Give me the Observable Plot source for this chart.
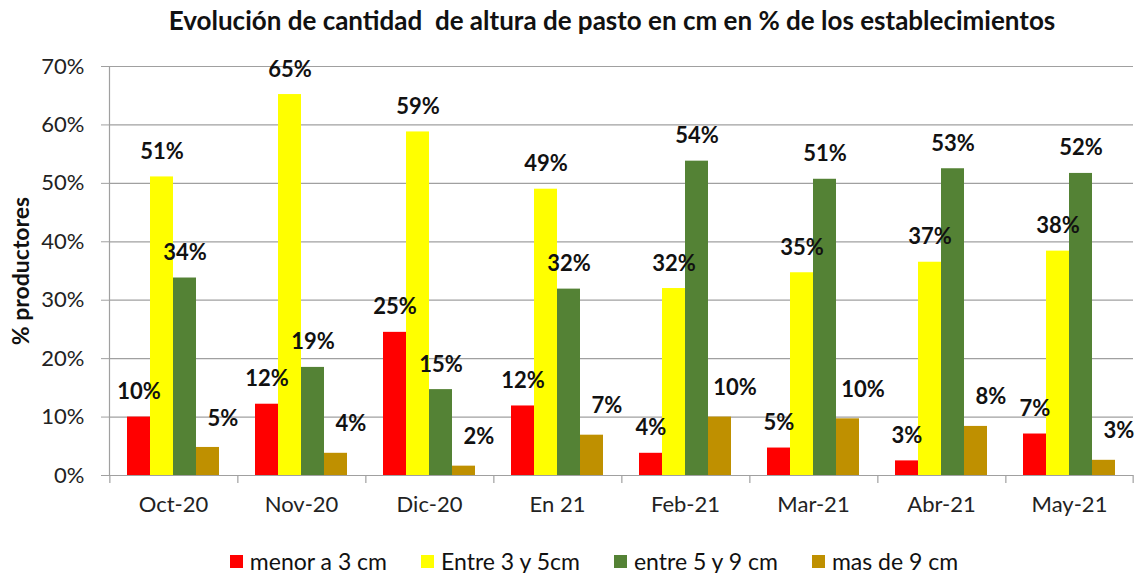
<!DOCTYPE html>
<html><head><meta charset="utf-8">
<script src="https://cdn.jsdelivr.net/npm/d3@7"></script>
<script src="https://cdn.jsdelivr.net/npm/@observablehq/plot@0.6"></script>
<style>
body{margin:0;background:#fff;font-family:Lato,sans-serif;}
#title{height:40px;line-height:40px;padding-left:78px;text-align:center;font-weight:bold;font-size:26px;color:#111;white-space:pre;}
#chart{height:495px;}
#legend{display:flex;justify-content:center;align-items:center;padding-left:42px;padding-top:14px;height:24px;font-size:23px;line-height:24px;color:#111;}
#legend .it{display:flex;align-items:center;margin:0 17px;}
#legend .sw{width:13px;height:13px;margin-right:7px;display:inline-block;}
</style></head><body>
<div id="title"></div>
<div id="chart"></div>
<div id="legend"></div>
<script>
const titleText = "Evolución de cantidad  de altura de pasto en cm en % de los establecimientos";
const yLabel = "% productores";
const categories = ["Oct-20","Nov-20","Dic-20","En 21","Feb-21","Mar-21","Abr-21","May-21"];
const series = ["menor a 3 cm","Entre 3 y 5cm","entre 5 y 9 cm","mas de 9 cm"];
const menor3 = [10.0, 12.2, 24.5, 11.9, 3.8, 4.7, 2.5, 7.1];
const entre3y5 = [51.1, 65.2, 58.8, 49.0, 32.0, 34.7, 36.5, 38.4];
const entre5y9 = [33.8, 18.5, 14.7, 31.9, 53.8, 50.7, 52.5, 51.7];
const mas9 = [4.8, 3.8, 1.6, 6.9, 10.0, 9.7, 8.4, 2.6];
const yTicks = [0,10,20,30,40,50,60,70];
const colors = ["#FF0000","#FFFF00","#548235","#BF9000"];

const seriesValues = [menor3, entre3y5, entre5y9, mas9];
const data = [];
categories.forEach((c,i)=>series.forEach((s,j)=>data.push({cat:c, serie:s, value:seriesValues[j][i]})));

document.getElementById("title").textContent = titleText;

const W = 1146, ML = 108, MR = 12;
const step = (W-ML-MR)/categories.length/(series.length+1.5);
const grey = "#a0a0a0";

const plot = Plot.plot({
  width: W, height: 495, marginTop: 26, marginBottom: 60, marginLeft: ML, marginRight: MR,
  style: {fontFamily: "Lato, sans-serif", fontSize: "22px", color: "#222", background: "#fff", overflow: "visible"},
  fx: {domain: categories, padding: 0, label: null},
  x: {domain: series, paddingInner: 0, paddingOuter: 0.75, axis: null},
  y: {domain: [0,70]},
  color: {domain: series, range: colors},
  marks: [
    Plot.gridY(yTicks, {stroke: grey, strokeOpacity: 1, strokeWidth: 1.2}),
    Plot.frame({anchor: "left", stroke: grey, strokeWidth: 1.2, facetAnchor: "left"}),
    Plot.axisY({ticks: yTicks, tickFormat: d => d + "%", tickSize: 8, tickPadding: 17, stroke: grey, fill: "#222", label: null, fontSize: 22}),
    Plot.ruleX([series[0]], {x: d => d, y1: 0, y2: 0, insetBottom: -8, dx: -1.25*step, stroke: grey, strokeWidth: 1.2}),
    Plot.ruleX([{s: series[3], c: categories[categories.length-1]}], {x: "s", fx: "c", y1: 0, y2: 0, insetBottom: -8, dx: 1.25*step, stroke: grey, strokeWidth: 1.2}),
    Plot.axisFx({anchor: "bottom", tickSize: 0, tickPadding: 21, label: null, fontSize: 22, fill: "#222"}),
    Plot.barY(data, {fx: "cat", x: "serie", y: "value", fill: "serie"}),
    Plot.text(data.filter(d => d.serie !== series[3]), {fx: "cat", x: "serie", y: "value", text: d => Math.round(d.value) + "%", dy: -25, fontWeight: "bold", fontSize: 22, fill: "#111"}),
    Plot.text(data.filter(d => d.serie === series[3]), {fx: "cat", x: "serie", y: "value", text: d => Math.round(d.value) + "%", dx: 15, dy: -29, fontWeight: "bold", fontSize: 22, fill: "#111"}),
    Plot.text([yLabel], {frameAnchor: "left", textAnchor: "middle", rotate: -90, dx: -88, fontWeight: "bold", fontSize: 23, fill: "#111", facetAnchor: "left"})
  ]
});
document.getElementById("chart").appendChild(plot);

const legend = document.getElementById("legend");
series.forEach((s,j) => {
  const it = document.createElement("span"); it.className = "it";
  const sw = document.createElement("span"); sw.className = "sw"; sw.style.background = colors[j];
  it.appendChild(sw); it.appendChild(document.createTextNode(s));
  legend.appendChild(it);
});
</script>
</body></html>
